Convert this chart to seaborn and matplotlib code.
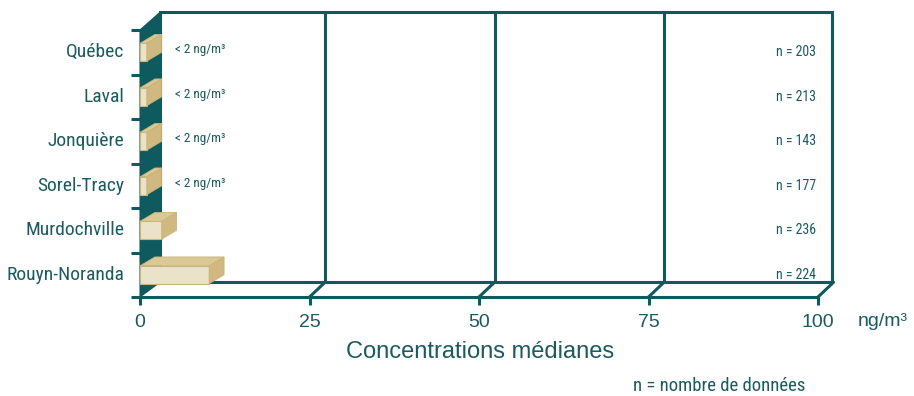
import matplotlib
matplotlib.use("Agg")
import matplotlib.pyplot as plt
from matplotlib.patches import Polygon
import seaborn as sns
import pandas as pd

# Median concentrations by city (ng/m³) and number of samples
sites = ["Québec", "Laval", "Jonquière", "Sorel-Tracy", "Murdochville", "Rouyn-Noranda"]
medians = [1.0, 1.0, 1.0, 1.0, 3.2, 10.2]
value_notes = ["< 2 ng/m³", "< 2 ng/m³", "< 2 ng/m³", "< 2 ng/m³", "", ""]
counts = [203, 213, 143, 177, 236, 224]
x_ticks = [0, 25, 50, 75, 100]

TEAL = "#0f5a5f"
TEXT = "#1b5a5f"
FRONT = "#ebe3c9"
TOP = "#dac995"
SIDE = "#cfb980"
EDGE = "#c8b57c"

NARROW = ["Roboto Condensed", "Archivo Narrow", "DejaVu Sans"]
REGULAR = ["Liberation Sans", "DejaVu Sans"]

sns.set_theme(style="white")
plt.rcParams["font.family"] = REGULAR

W, H = 914, 396
fig = plt.figure(figsize=(W / 100, H / 100), dpi=100)
fig.patch.set_facecolor("white")
ax = fig.add_axes([140 / W, 1 - 297 / H, 678 / W, 267 / H])
ax.set_facecolor("none")

df = pd.DataFrame({"site": sites, "median": medians})

# depth of the box (walls) and of the bars, in data units
DX, DY = 2.29, 0.337
WALL_X = 2.95
BACK_TOP, BACK_BOT, BACK_RIGHT = -0.899, 5.169, 102.06
BDX, BDY = 2.2, 0.2
HALF = 0.2

# back wall
ax.add_patch(Polygon([(WALL_X, BACK_TOP), (BACK_RIGHT, BACK_TOP), (BACK_RIGHT, BACK_BOT),
                      (WALL_X, BACK_BOT)], closed=True, facecolor="white",
                     edgecolor=TEAL, lw=2.2, clip_on=False, zorder=0.5))
for v in x_ticks[1:-1]:
    ax.plot([v + DX, v + DX], [BACK_TOP, BACK_BOT], color=TEAL, lw=2.2,
            clip_on=False, zorder=0.6, solid_capstyle="butt")
# floor connectors
for v in x_ticks[1:]:
    ax.plot([v, v + DX], [5.5, BACK_BOT], color=TEAL, lw=2.2, clip_on=False, zorder=0.6)

# left wall
ax.add_patch(Polygon([(0, 5.5), (0, -0.5), (WALL_X, BACK_TOP), (WALL_X, BACK_BOT)],
                     closed=True, facecolor=TEAL, edgecolor=TEAL, lw=0.8,
                     clip_on=False, zorder=1))

# front faces of the bars
sns.barplot(data=df, x="median", y="site", orient="h", width=2 * HALF, color=FRONT,
            saturation=1, edgecolor=EDGE, linewidth=0.8, ax=ax, zorder=3)

# top and side faces of the bars
for i, v in enumerate(medians):
    y0, y1 = i - HALF, i + HALF
    ax.add_patch(Polygon([(0, y0), (v, y0), (v + BDX, y0 - BDY), (BDX, y0 - BDY)],
                         closed=True, facecolor=TOP, edgecolor=EDGE, lw=0.6,
                         clip_on=False, zorder=3))
    ax.add_patch(Polygon([(v, y0), (v, y1), (v + BDX, y1 - BDY), (v + BDX, y0 - BDY)],
                         closed=True, facecolor=SIDE, edgecolor=EDGE, lw=0.6,
                         clip_on=False, zorder=3))
    if value_notes[i]:
        ax.text(5.2, i - 0.06, value_notes[i], ha="left", va="center", fontsize=9.5,
                color=TEXT, family=NARROW, zorder=4)
    ax.text(99.7, i, f"n = {counts[i]}", ha="right", va="center", fontsize=10,
            color=TEXT, family=NARROW, zorder=4)

ax.set_xlim(0, 100)
ax.set_ylim(5.5, -0.5)
ax.set_xlabel("")
ax.set_ylabel("")
for s in ["top", "right", "left"]:
    ax.spines[s].set_visible(False)
ax.spines["bottom"].set_color(TEAL)
ax.spines["bottom"].set_linewidth(2.2)
ax.spines["bottom"].set_zorder(2)

ax.set_xticks(x_ticks)
ax.set_xticklabels([str(v) for v in x_ticks], fontsize=14, color=TEXT)
ax.tick_params(axis="x", length=6, width=2.2, color=TEAL, pad=6, bottom=True)

ax.set_yticks(range(len(sites)))
ax.set_yticklabels(sites, fontsize=14, color=TEXT, family=NARROW, va="center")
for lbl in ax.get_yticklabels():
    lbl.set_y(lbl.get_position()[1])
ax.set_yticks([k - 0.5 for k in range(len(sites) + 1)], minor=True)
ax.tick_params(axis="y", which="major", length=0, pad=11.5, left=True)
ax.tick_params(axis="y", which="minor", length=6.5, width=2.2, color=TEAL, left=True)

fig.text(858 / W, 1 - 322 / H, "ng/m³", ha="left", va="center", fontsize=14, color=TEXT)
fig.text(480 / W, 1 - 352 / H, "Concentrations médianes", ha="center", va="center",
         fontsize=17, color=TEXT)
fig.text(719 / W, 1 - 386 / H, "n = nombre de données", ha="center", va="center",
         fontsize=13.5, color=TEXT, family=NARROW)

fig.savefig("out.png", dpi=100, facecolor="white")
